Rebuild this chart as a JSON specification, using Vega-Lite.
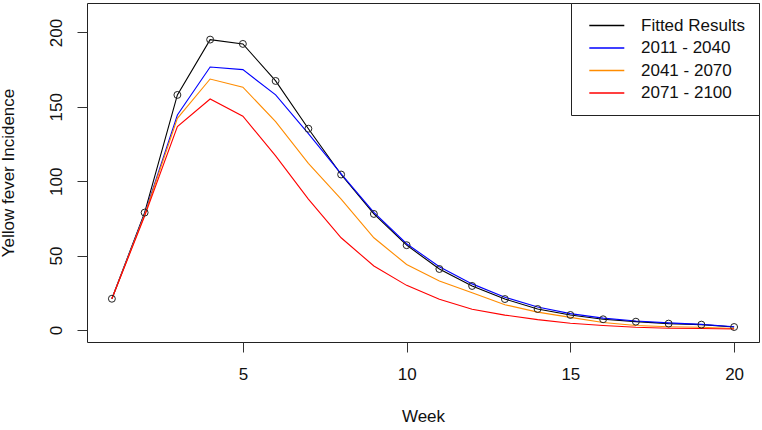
{
  "$schema": "https://vega.github.io/schema/vega-lite/v6.json",
  "autosize": {"type": "none"},
  "padding": {"left": 87, "top": 3, "right": 3, "bottom": 88},
  "width": 672,
  "height": 339,
  "background": "white",
  "config": {
    "font": "Liberation Sans",
    "view": {"stroke": "#222", "strokeWidth": 1},
    "axis": {"grid": false, "domain": false, "tickColor": "#333", "tickSize": 10, "labelFontSize": 17, "labelColor": "#111", "titleFontSize": 17, "titleFontWeight": "normal", "titleColor": "#111"}
  },
  "data": {"values": [
    {"week": 1, "series": "Fitted Results", "value": 21},
    {"week": 2, "series": "Fitted Results", "value": 78.9},
    {"week": 3, "series": "Fitted Results", "value": 158},
    {"week": 4, "series": "Fitted Results", "value": 195.2},
    {"week": 5, "series": "Fitted Results", "value": 192.3},
    {"week": 6, "series": "Fitted Results", "value": 167.4},
    {"week": 7, "series": "Fitted Results", "value": 135.3},
    {"week": 8, "series": "Fitted Results", "value": 104.5},
    {"week": 9, "series": "Fitted Results", "value": 78},
    {"week": 10, "series": "Fitted Results", "value": 57},
    {"week": 11, "series": "Fitted Results", "value": 41},
    {"week": 12, "series": "Fitted Results", "value": 29.6},
    {"week": 13, "series": "Fitted Results", "value": 20.8},
    {"week": 14, "series": "Fitted Results", "value": 14.1},
    {"week": 15, "series": "Fitted Results", "value": 10.1},
    {"week": 16, "series": "Fitted Results", "value": 7.2},
    {"week": 17, "series": "Fitted Results", "value": 5.6},
    {"week": 18, "series": "Fitted Results", "value": 4.3},
    {"week": 19, "series": "Fitted Results", "value": 3.6},
    {"week": 20, "series": "Fitted Results", "value": 2},
    {"week": 1, "series": "2011 - 2040", "value": 21},
    {"week": 2, "series": "2011 - 2040", "value": 78},
    {"week": 3, "series": "2011 - 2040", "value": 144.5},
    {"week": 4, "series": "2011 - 2040", "value": 176.8},
    {"week": 5, "series": "2011 - 2040", "value": 175},
    {"week": 6, "series": "2011 - 2040", "value": 158},
    {"week": 7, "series": "2011 - 2040", "value": 132},
    {"week": 8, "series": "2011 - 2040", "value": 105},
    {"week": 9, "series": "2011 - 2040", "value": 79},
    {"week": 10, "series": "2011 - 2040", "value": 58},
    {"week": 11, "series": "2011 - 2040", "value": 42.5},
    {"week": 12, "series": "2011 - 2040", "value": 31},
    {"week": 13, "series": "2011 - 2040", "value": 22},
    {"week": 14, "series": "2011 - 2040", "value": 15.5},
    {"week": 15, "series": "2011 - 2040", "value": 11},
    {"week": 16, "series": "2011 - 2040", "value": 8},
    {"week": 17, "series": "2011 - 2040", "value": 6},
    {"week": 18, "series": "2011 - 2040", "value": 4.8},
    {"week": 19, "series": "2011 - 2040", "value": 3.8},
    {"week": 20, "series": "2011 - 2040", "value": 2.2},
    {"week": 1, "series": "2041 - 2070", "value": 21},
    {"week": 2, "series": "2041 - 2070", "value": 77.5},
    {"week": 3, "series": "2041 - 2070", "value": 142.3},
    {"week": 4, "series": "2041 - 2070", "value": 168.7},
    {"week": 5, "series": "2041 - 2070", "value": 163.2},
    {"week": 6, "series": "2041 - 2070", "value": 140},
    {"week": 7, "series": "2041 - 2070", "value": 112},
    {"week": 8, "series": "2041 - 2070", "value": 88},
    {"week": 9, "series": "2041 - 2070", "value": 62},
    {"week": 10, "series": "2041 - 2070", "value": 44},
    {"week": 11, "series": "2041 - 2070", "value": 33},
    {"week": 12, "series": "2041 - 2070", "value": 25},
    {"week": 13, "series": "2041 - 2070", "value": 17},
    {"week": 14, "series": "2041 - 2070", "value": 12},
    {"week": 15, "series": "2041 - 2070", "value": 8.5},
    {"week": 16, "series": "2041 - 2070", "value": 5},
    {"week": 17, "series": "2041 - 2070", "value": 3},
    {"week": 18, "series": "2041 - 2070", "value": 2.2},
    {"week": 19, "series": "2041 - 2070", "value": 1.8},
    {"week": 20, "series": "2041 - 2070", "value": 1},
    {"week": 1, "series": "2071 - 2100", "value": 21},
    {"week": 2, "series": "2071 - 2100", "value": 76.6},
    {"week": 3, "series": "2071 - 2100", "value": 136.7},
    {"week": 4, "series": "2071 - 2100", "value": 155.3},
    {"week": 5, "series": "2071 - 2100", "value": 143.7},
    {"week": 6, "series": "2071 - 2100", "value": 117},
    {"week": 7, "series": "2071 - 2100", "value": 88},
    {"week": 8, "series": "2071 - 2100", "value": 62},
    {"week": 9, "series": "2071 - 2100", "value": 43},
    {"week": 10, "series": "2071 - 2100", "value": 30},
    {"week": 11, "series": "2071 - 2100", "value": 20.6},
    {"week": 12, "series": "2071 - 2100", "value": 14},
    {"week": 13, "series": "2071 - 2100", "value": 10},
    {"week": 14, "series": "2071 - 2100", "value": 7},
    {"week": 15, "series": "2071 - 2100", "value": 4.5},
    {"week": 16, "series": "2071 - 2100", "value": 3},
    {"week": 17, "series": "2071 - 2100", "value": 1.8},
    {"week": 18, "series": "2071 - 2100", "value": 1.2},
    {"week": 19, "series": "2071 - 2100", "value": 1},
    {"week": 20, "series": "2071 - 2100", "value": 0.7}
  ]},
  "encoding": {
    "x": {"field": "week", "type": "quantitative", "scale": {"domain": [0.24, 20.76], "nice": false, "zero": false},
      "axis": {"values": [5, 10, 15, 20], "title": "Week", "labelPadding": 14, "titlePadding": 26}},
    "y": {"field": "value", "type": "quantitative", "scale": {"domain": [-8.07, 219.8], "nice": false, "zero": false},
      "axis": {"values": [0, 50, 100, 150, 200], "title": "Yellow fever Incidence", "labelAngle": -90, "labelAlign": "center", "labelBaseline": "bottom", "labelPadding": 12, "titlePadding": 30}}
  },
  "layer": [
    {
      "transform": [{"filter": "datum.series === 'Fitted Results'"}],
      "mark": {"type": "line", "strokeWidth": 1.1},
      "encoding": {
        "color": {"field": "series", "type": "nominal",
          "scale": {"domain": ["Fitted Results", "2011 - 2040", "2041 - 2070", "2071 - 2100"], "range": ["#000000", "#0000FF", "#FF8C00", "#FF0000"]},
          "legend": {"title": null, "orient": "top-right", "offset": 0, "fillColor": "white", "strokeColor": "#222", "padding": 14, "symbolType": "M-0.6,0H4.4", "symbolSize": 196, "symbolStrokeWidth": 1.3, "labelFontSize": 17, "labelColor": "#111", "labelOffset": 39, "rowPadding": 4.5}
        }
      }
    },
    {
      "transform": [{"filter": "datum.series !== 'Fitted Results'"}],
      "mark": {"type": "line", "strokeWidth": 1.1},
      "encoding": {"color": {"field": "series", "type": "nominal"}}
    },
    {
      "transform": [{"filter": "datum.series === 'Fitted Results'"}],
      "mark": {"type": "point", "shape": "circle", "filled": false, "color": "#222", "size": 48, "strokeWidth": 1, "opacity": 1}
    }
  ]
}
